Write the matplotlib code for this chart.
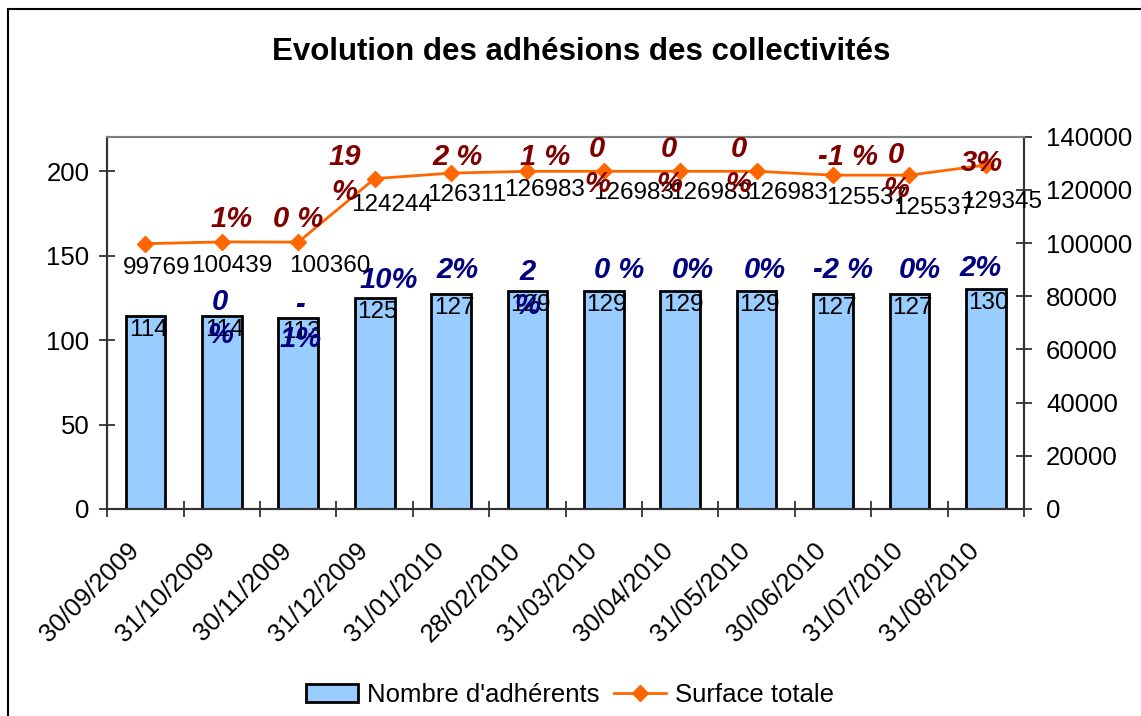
import matplotlib
matplotlib.use("Agg")
import matplotlib.pyplot as plt
import matplotlib.transforms as mtransforms
from matplotlib.patches import Rectangle
import numpy as np

plt.rcParams['font.family'] = ['Liberation Sans', 'DejaVu Sans']

# data
dates = ["30/09/2009", "31/10/2009", "30/11/2009", "31/12/2009", "31/01/2010",
         "28/02/2010", "31/03/2010", "30/04/2010", "31/05/2010", "30/06/2010",
         "31/07/2010", "31/08/2010"]
adherents = [114, 114, 113, 125, 127, 129, 129, 129, 129, 127, 127, 130]
surface = [99769, 100439, 100360, 124244, 126311, 126983, 126983, 126983,
           126983, 125537, 125537, 129345]
evol_adh = ["", "0\n%", "-\n1%", "10%", "2%", "2\n%", "0 %", "0%", "0%",
            "-2 %", "0%", "2%"]
evol_surf = ["", "1%", "0 %", "19\n%", "2 %", "1 %", "0\n%", "0\n%", "0\n%",
             "-1 %", "0\n%", "3%"]

# label placement (pixel offsets from the mark)
adh_pct_off = [(0, 0), (-2, -2), (2, -4), (14, 18), (6, 24), (0, 2), (15, 21),
               (13, 21), (8, 21), (10, 24), (10, 24), (-5, 21)]
surf_pct_off = [(0, 0), (10, 23), (0, 23), (-30, 4), (7, 16), (18, 14), (-7, 5),
                (-11, 5), (-18, 5), (15, 18), (-13, 3), (-4, 2)]
surf_val_off = [(11, -24), (10, -24), (32, -24), (17, -26), (16, -22), (17, -19),
                (30, -22), (30, -22), (31, -22), (34, -23), (24, -33), (16, -37)]

W, H = 1141, 716
fig = plt.figure(figsize=(W / 100, H / 100), dpi=100)
ax = fig.add_axes([107.3 / W, 1 - 509 / H, (1024 - 107.3) / W, (509 - 136.7) / H])
ax2 = ax.twinx()

x = np.arange(len(dates))
bars = ax.bar(x, adherents, width=0.52, color='#99CCFF', edgecolor='black',
              linewidth=2, label="Nombre d'adhérents", zorder=2)
line, = ax2.plot(x, surface, color='#FF6600', marker='D', markersize=8.5,
                 linewidth=2, label='Surface totale', zorder=3)

ax.set_xlim(-0.5, len(dates) - 0.5)
ax.set_ylim(0, 220.3)
ax2.set_ylim(0, 140000)
ax.set_yticks([0, 50, 100, 150, 200])
ax2.set_yticks(range(0, 140001, 20000))

for a in (ax, ax2):
    for s in a.spines.values():
        s.set_linewidth(1.5)
        s.set_color('#333333')
    a.spines['top'].set_color('#808080')
ax.tick_params(axis='y', direction='inout', length=11.5, width=1.3,
               labelsize=18.5, pad=7, color='#333333')
ax2.tick_params(axis='y', direction='inout', length=11.5, width=1.3,
                labelsize=18.5, pad=10, color='#333333')

ax.set_xticks(x)
ax.set_xticklabels(dates, rotation=45, ha='right', va='top',
                   rotation_mode='anchor', fontsize=18.5)
ax.set_xticks(np.arange(-0.5, len(dates), 1.0), minor=True)
ax.tick_params(axis='x', which='major', length=0, pad=21)
ax.tick_params(axis='x', which='minor', direction='inout', length=11.5,
               width=1.3, color='#333333')
shift = mtransforms.ScaledTranslation(-19 / 100, 0, fig.dpi_scale_trans)
for lab in ax.get_xticklabels():
    lab.set_transform(lab.get_transform() + shift)

# bar value labels
for i, v in enumerate(adherents):
    ax.annotate(str(v), (x[i], v), xytext=(3, -14), textcoords='offset pixels',
                ha='center', va='center', fontsize=17.5, zorder=5)

# bar evolution labels
for i, t in enumerate(evol_adh):
    if t:
        dx, dy = adh_pct_off[i]
        ax.annotate(t, (x[i], adherents[i]), xytext=(dx, dy),
                    textcoords='offset pixels', ha='center', va='center',
                    fontsize=21, fontweight='bold', fontstyle='italic',
                    color='#000080', linespacing=1.25, zorder=5)

# line value labels
for i, v in enumerate(surface):
    dx, dy = surf_val_off[i]
    ax2.annotate(str(v), (x[i], v), xytext=(dx, dy), textcoords='offset pixels',
                 ha='center', va='center', fontsize=17.5, zorder=5)

# line evolution labels
for i, t in enumerate(evol_surf):
    if t:
        dx, dy = surf_pct_off[i]
        ax2.annotate(t, (x[i], surface[i]), xytext=(dx, dy),
                     textcoords='offset pixels', ha='center', va='center',
                     fontsize=21, fontweight='bold', fontstyle='italic',
                     color='#800000', linespacing=1.3, zorder=5)

fig.text(581 / W, 1 - 52 / H, "Evolution des adhésions des collectivités",
         ha='center', va='center', fontsize=22.5, fontweight='bold')

fig.legend([bars, line], ["Nombre d'adhérents", 'Surface totale'],
           loc='center', bbox_to_anchor=(570 / W, 1 - 695 / H), ncol=2,
           frameon=False, fontsize=18.5, handlelength=2.0, handletextpad=0.35,
           columnspacing=0.6, numpoints=1)

# outer chart border
fig.patches.append(Rectangle((8 / W, -0.1), 1.2, 1 - 9 / H + 0.1,
                             transform=fig.transFigure, fill=False,
                             edgecolor='black', linewidth=1.5))

plt.savefig("out.png", dpi=100)
